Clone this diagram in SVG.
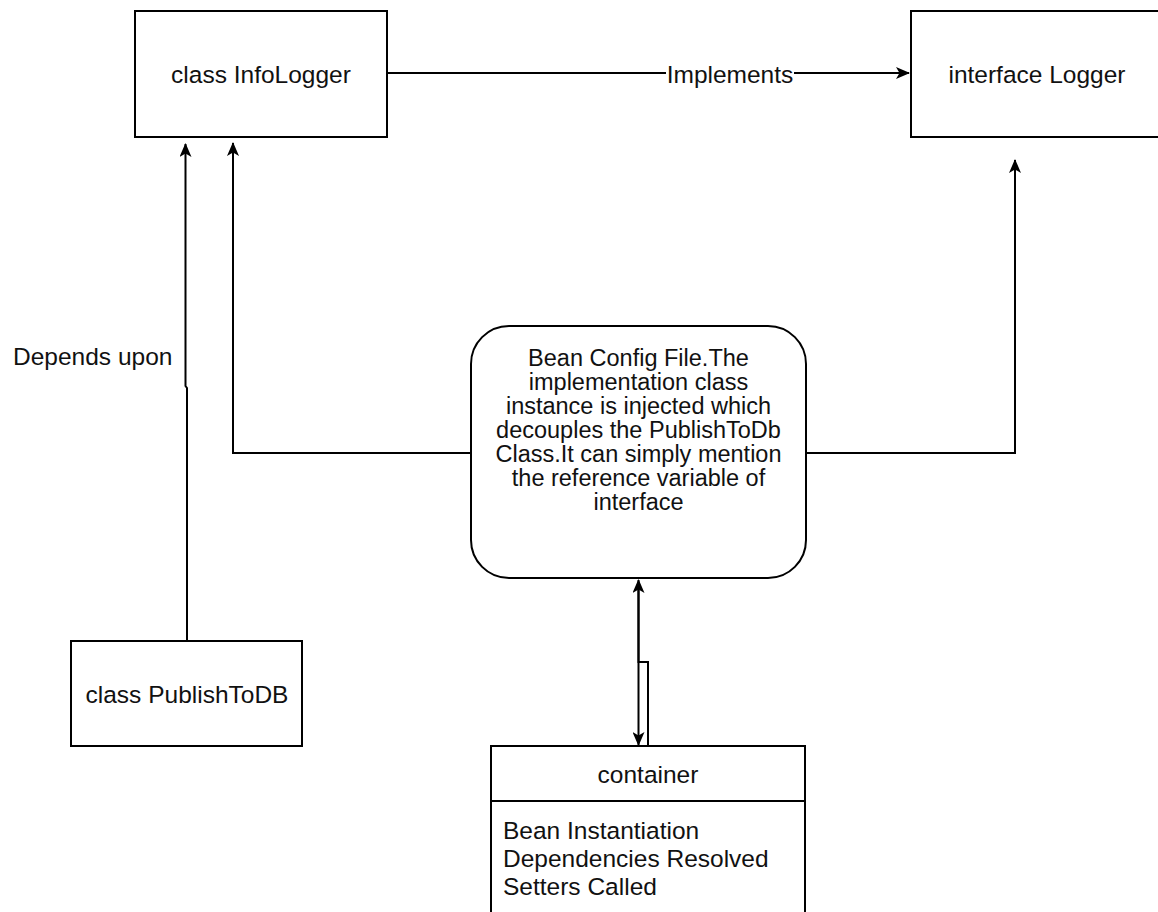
<svg xmlns="http://www.w3.org/2000/svg" width="1158" height="912" viewBox="0 0 1158 912">
<style>
.box{fill:#fff;stroke:#000;stroke-width:2}
.ln{fill:none;stroke:#000;stroke-width:2}
text{font-family:"Liberation Sans",Arial,Helvetica,sans-serif;font-size:24.5px;fill:#111}
.b{font-size:23.5px}
.c{text-anchor:middle;dominant-baseline:central}
</style>
<defs>
<marker id="ah" viewBox="0 0 14 12" refX="13" refY="6" markerWidth="14" markerHeight="12" markerUnits="userSpaceOnUse" orient="auto">
<path d="M0,0 L14,6 L0,12 L3.5,6 Z" fill="#000"/>
</marker>
</defs>
<rect width="1158" height="912" fill="#fff"/>
<g id="connectors">
<path class="ln" d="M387,73 H909" marker-end="url(#ah)"/>
<rect x="666" y="60" width="128" height="26" fill="#fff"/>
<text class="c" x="730" y="74">Implements</text>
<path class="ln" d="M187,641 V388 L185.5,386 V144" marker-end="url(#ah)"/>
<path class="ln" d="M471,453 H233 V143" marker-end="url(#ah)"/>
<path class="ln" d="M806,453 H1015 V160" marker-end="url(#ah)"/>
<path class="ln" d="M648,746 V662 H638.5 V580" marker-end="url(#ah)"/>
<path class="ln" d="M638.5,590 V745" marker-end="url(#ah)"/>
<text x="13" y="365">Depends upon</text>
</g>
<g id="infologger">
<rect class="box" x="135" y="11" width="252" height="126"/>
<text class="c" x="261" y="74">class InfoLogger</text>
</g>
<g id="logger">
<rect class="box" x="911" y="11" width="252" height="126"/>
<text class="c" x="1037" y="74">interface Logger</text>
</g>
<g id="beanconfig">
<rect class="box" x="471" y="326" width="335" height="252" rx="38" ry="38"/>
<text class="c b" x="638.5" y="358">Bean Config File.The</text>
<text class="c b" x="638.5" y="382">implementation class</text>
<text class="c b" x="638.5" y="406">instance is injected which</text>
<text class="c b" x="638.5" y="430">decouples the PublishToDb</text>
<text class="c b" x="638.5" y="454">Class.It can simply mention</text>
<text class="c b" x="638.5" y="478">the reference variable of</text>
<text class="c b" x="638.5" y="502">interface</text>
</g>
<g id="publishtodb">
<rect class="box" x="71" y="641" width="231" height="105"/>
<text class="c" x="187" y="694">class PublishToDB</text>
</g>
<g id="container">
<rect class="box" x="491" y="746" width="314" height="180"/>
<line class="ln" x1="491" y1="801" x2="805" y2="801"/>
<text class="c" x="648" y="774">container</text>
<text x="503" y="839">Bean Instantiation</text>
<text x="503" y="867">Dependencies Resolved</text>
<text x="503" y="895">Setters Called</text>
</g>
</svg>
